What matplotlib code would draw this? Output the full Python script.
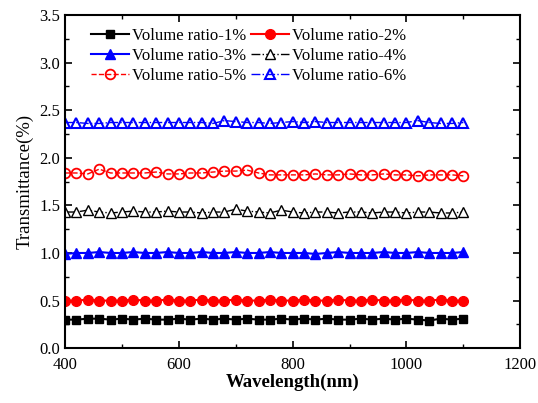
import numpy as np
import matplotlib
matplotlib.use("Agg")
import matplotlib.pyplot as plt
from matplotlib.ticker import MultipleLocator

plt.rcParams['font.family'] = ['Liberation Serif', 'DejaVu Serif']

wavelength = list(range(400, 1101, 20))

ratio_1 = [0.30, 0.30, 0.31, 0.31, 0.30, 0.31, 0.30, 0.31, 0.30, 0.30, 0.31, 0.30,
           0.31, 0.30, 0.31, 0.30, 0.31, 0.30, 0.30, 0.31, 0.30, 0.31, 0.30, 0.31,
           0.30, 0.30, 0.31, 0.30, 0.31, 0.30, 0.31, 0.30, 0.29, 0.31, 0.30, 0.31]
ratio_2 = [0.50, 0.50, 0.51, 0.50, 0.50, 0.50, 0.51, 0.50, 0.50, 0.51, 0.50, 0.50,
           0.51, 0.50, 0.50, 0.51, 0.50, 0.50, 0.51, 0.50, 0.50, 0.51, 0.50, 0.50,
           0.51, 0.50, 0.50, 0.51, 0.50, 0.50, 0.51, 0.50, 0.50, 0.51, 0.50, 0.50]
ratio_3 = [0.99, 1.00, 1.00, 1.01, 1.00, 1.00, 1.01, 1.00, 1.00, 1.01, 1.00, 1.00,
           1.01, 1.00, 1.00, 1.01, 1.00, 1.00, 1.01, 1.00, 1.00, 1.00, 0.99, 1.00,
           1.01, 1.00, 1.00, 1.00, 1.01, 1.00, 1.00, 1.01, 1.00, 1.00, 1.00, 1.01]
ratio_4 = [1.43, 1.43, 1.45, 1.43, 1.42, 1.43, 1.44, 1.43, 1.43, 1.44, 1.43, 1.43,
           1.42, 1.43, 1.43, 1.46, 1.44, 1.43, 1.42, 1.45, 1.43, 1.42, 1.43, 1.43,
           1.42, 1.43, 1.43, 1.42, 1.43, 1.43, 1.42, 1.43, 1.43, 1.42, 1.42, 1.43]
ratio_5 = [1.84, 1.84, 1.83, 1.88, 1.84, 1.84, 1.84, 1.84, 1.85, 1.83, 1.83, 1.84,
           1.84, 1.85, 1.86, 1.86, 1.87, 1.84, 1.82, 1.82, 1.82, 1.82, 1.83, 1.82,
           1.82, 1.83, 1.82, 1.82, 1.83, 1.82, 1.82, 1.81, 1.82, 1.82, 1.82, 1.81]
ratio_6 = [2.37, 2.37, 2.36, 2.36, 2.37, 2.37, 2.37, 2.37, 2.37, 2.37, 2.37, 2.37,
           2.37, 2.36, 2.39, 2.38, 2.37, 2.37, 2.36, 2.37, 2.38, 2.37, 2.38, 2.37,
           2.37, 2.37, 2.37, 2.37, 2.37, 2.37, 2.37, 2.39, 2.37, 2.36, 2.36, 2.37]

fig = plt.figure(figsize=(5.38, 4.03), dpi=100)
ax = fig.add_axes([0.121, 0.136, 0.846, 0.827])

l1, = ax.plot(wavelength, ratio_1, '-', color='black', marker='s', ms=6, lw=1.5,
              label="Volume ratio-1%")
l2, = ax.plot(wavelength, ratio_2, '-', color='red', marker='o', ms=7, lw=1.5,
              label="Volume ratio-2%")
l3, = ax.plot(wavelength, ratio_3, '-', color='blue', marker='^', ms=7, lw=1.5,
              label="Volume ratio-3%")
l4, = ax.plot(wavelength, ratio_4, '-.', color='black', marker='^', ms=7, lw=1,
              mfc='white', mec='black', label="Volume ratio-4%")
l5, = ax.plot(wavelength, ratio_5, '--', color='red', marker='o', ms=7, lw=1,
              mfc='none', mec='red', mew=1.3, label="Volume ratio-5%")
l6, = ax.plot(wavelength, ratio_6, '-.', color='blue', marker='^', ms=7, lw=1,
              mfc='none', mec='blue', mew=1.5, label="Volume ratio-6%")

ax.set_xlim(400, 1200)
ax.set_ylim(0, 3.5)
ax.xaxis.set_major_locator(MultipleLocator(200))
ax.xaxis.set_minor_locator(MultipleLocator(100))
ax.yaxis.set_major_locator(MultipleLocator(0.5))
ax.yaxis.set_minor_locator(MultipleLocator(0.25))
ax.tick_params(which='both', direction='in', top=True, right=True, labelsize=12)
ax.tick_params(which='major', length=5, width=1.2)
ax.tick_params(which='minor', length=3, width=1)
ax.tick_params(axis='x', pad=6)
for s in ax.spines.values():
    s.set_linewidth(1.5)

ax.set_xlabel("Wavelength(nm)", fontsize=13.5, fontweight='bold', labelpad=1)
ax.set_ylabel("Transmittance(%)", fontsize=13.5, labelpad=4)

# row-wise order like the original legend
handles = [l1, l3, l5, l2, l4, l6]
ax.legend(handles=handles, labels=[h.get_label() for h in handles],
          loc='upper left', ncol=2, frameon=False, fontsize=12,
          bbox_to_anchor=(0.035, 0.99), handlelength=2.3, handletextpad=0.15,
          columnspacing=0.3, labelspacing=0.22, borderaxespad=0.2)

fig.savefig("out.png", dpi=100)
